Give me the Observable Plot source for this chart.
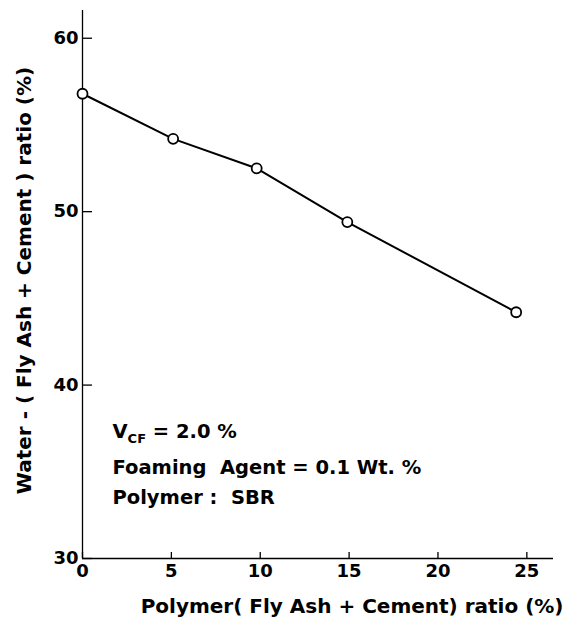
<!DOCTYPE html>
<html><head><meta charset="utf-8">
<script src="https://cdn.jsdelivr.net/npm/d3@7"></script>
<script src="https://cdn.jsdelivr.net/npm/@observablehq/plot@0.6"></script>
<style>body{margin:0;background:#fff}</style>
</head><body><div id="chart"></div>
<script>
const polymerRatio = [0, 5.1, 9.8, 14.9, 24.4];
const waterRatio = [56.8, 54.2, 52.5, 49.4, 44.2];
const xTicks = [0, 5, 10, 15, 20, 25];
const yTicks = [30, 40, 50, 60];
const xTitle = "Polymer( Fly Ash + Cement) ratio (%)";
const yTitle = "Water - ( Fly Ash + Cement ) ratio (%)";
const notes = ["VCF = 2.0 %", "Foaming  Agent = 0.1 Wt. %", "Polymer :  SBR"];

const data = polymerRatio.map((x, i) => ({x, y: waterRatio[i]}));
const noteDy = [427, 463, 493];

const chart = Plot.plot({
  width: 578, height: 624,
  marginLeft: 82, marginRight: 25, marginTop: 10, marginBottom: 66,
  style: {fontFamily: "DejaVu Sans", fontWeight: "bold", fontSize: "18px", color: "#000", background: "#fff"},
  x: {domain: [0, 26.5]},
  y: {domain: [30, 61.6]},
  marks: [
    Plot.ruleX([0], {stroke: "#000", strokeWidth: 1.3}),
    Plot.ruleY([30], {stroke: "#000", strokeWidth: 1.3}),
    Plot.axisX(xTicks, {tickSize: 6, dy: -6, tickPadding: 6, label: null, fontSize: 18, strokeWidth: 1.3}),
    Plot.axisY(yTicks, {tickSize: 10, dx: 10, tickPadding: 4, label: null, fontSize: 18, strokeWidth: 1.3}),
    Plot.line(data, {x: "x", y: "y", stroke: "#000", strokeWidth: 2}),
    Plot.dot(data, {x: "x", y: "y", r: 5, fill: "#fff", stroke: "#000", strokeWidth: 1.8}),
    Plot.text([xTitle], {text: d => d, frameAnchor: "bottom-right", textAnchor: "end", lineAnchor: "bottom", dx: 10, dy: 54, fontSize: 20}),
    Plot.text([yTitle], {text: d => d, frameAnchor: "left", rotate: -90, lineAnchor: "middle", textAnchor: "middle", dx: -58, dy: -4, fontSize: 20}),
    ...notes.map((n, i) => Plot.text([n], {text: d => d, frameAnchor: "top-left", textAnchor: "start", lineAnchor: "bottom", dx: 30, dy: noteDy[i], fontSize: 19.5}))
  ]
});
document.getElementById("chart").appendChild(chart);

// subscript for V_CF
d3.select(chart).selectAll("text").each(function() {
  if (this.textContent === notes[0]) {
    const t = d3.select(this);
    t.text(null);
    t.append("tspan").text("V");
    t.append("tspan").attr("font-size", 13).attr("dy", 5).text("CF");
    t.append("tspan").attr("dy", -5).text(" = 2.0 %");
  }
});
</script>
</body></html>
